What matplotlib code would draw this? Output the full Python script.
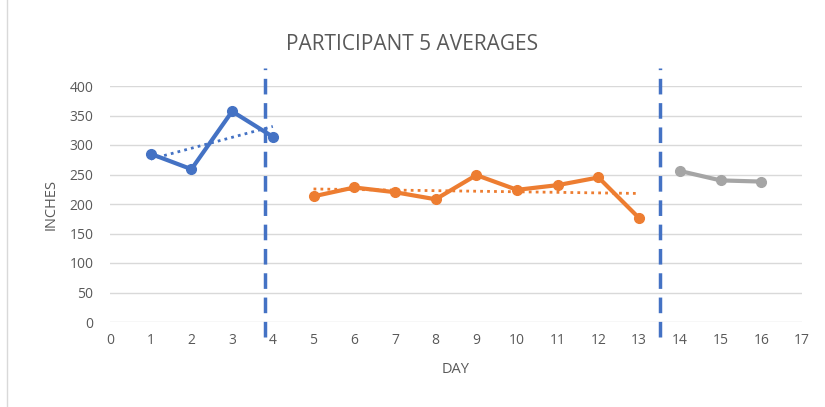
import numpy as np
import matplotlib.pyplot as plt

# 数据
days_a = [1, 2, 3, 4]
inches_a = [285, 259, 357, 314]
days_b = [5, 6, 7, 8, 9, 10, 11, 12, 13]
inches_b = [213, 228, 220, 208, 249, 224, 232, 245, 176]
days_c = [14, 15, 16]
inches_c = [256, 240, 238]
phase_lines = [3.8, 13.5]

blue = '#4472C4'
orange = '#ED7D31'
gray = '#A5A5A5'
text_col = '#595959'

plt.rcParams['font.family'] = ['Open Sans', 'DejaVu Sans']

fig = plt.figure(figsize=(8.25, 4.07), dpi=100)
ax = fig.add_axes([110 / 825, 1 - 322 / 407, 692 / 825, 236 / 407])

# 网格线
for y in range(0, 401, 50):
    ax.axhline(y, color='#D9D9D9', lw=1, zorder=0)

# 趋势线
for xs, ys, c in [(days_a, inches_a, blue), (days_b, inches_b, orange)]:
    k, b = np.polyfit(xs, ys, 1)
    xx = np.array([xs[0], xs[-1]])
    ax.plot(xx, k * xx + b, linestyle=(0, (1, 1.5)), color=c, lw=2, zorder=2)

ax.plot(days_a, inches_a, '-o', color=blue, lw=3, ms=7, zorder=3)
ax.plot(days_b, inches_b, '-o', color=orange, lw=3, ms=7, zorder=3)
ax.plot(days_c, inches_c, '-o', color=gray, lw=3, ms=7, zorder=3)

for x in phase_lines:
    ax.plot([x, x], [-25, 430], color=blue, lw=2.5, linestyle=(0, (4.5, 2.5)),
            clip_on=False, zorder=4)

ax.set_xlim(0, 17)
ax.set_ylim(0, 400)
ax.set_xticks(range(0, 18))
ax.set_yticks(range(0, 401, 50))
for s in ax.spines.values():
    s.set_visible(False)
ax.tick_params(length=0, colors=text_col, labelsize=10, pad=8)
ax.tick_params(axis='y', pad=12)
ax.set_xlabel('DAY', color=text_col, fontsize=10.5, labelpad=10)
ax.set_ylabel('INCHES', color=text_col, fontsize=10.5, labelpad=8)
fig.text(0.5, 1 - 45 / 407, 'PARTICIPANT 5 AVERAGES', ha='center', va='center',
         color=text_col, fontsize=15)

fig.patches.append(plt.Rectangle((7 / 825, -0.1), 2, 2, transform=fig.transFigure,
                                 fill=False, edgecolor='#D9D9D9', lw=1))

fig.savefig('out.png', dpi=100)
